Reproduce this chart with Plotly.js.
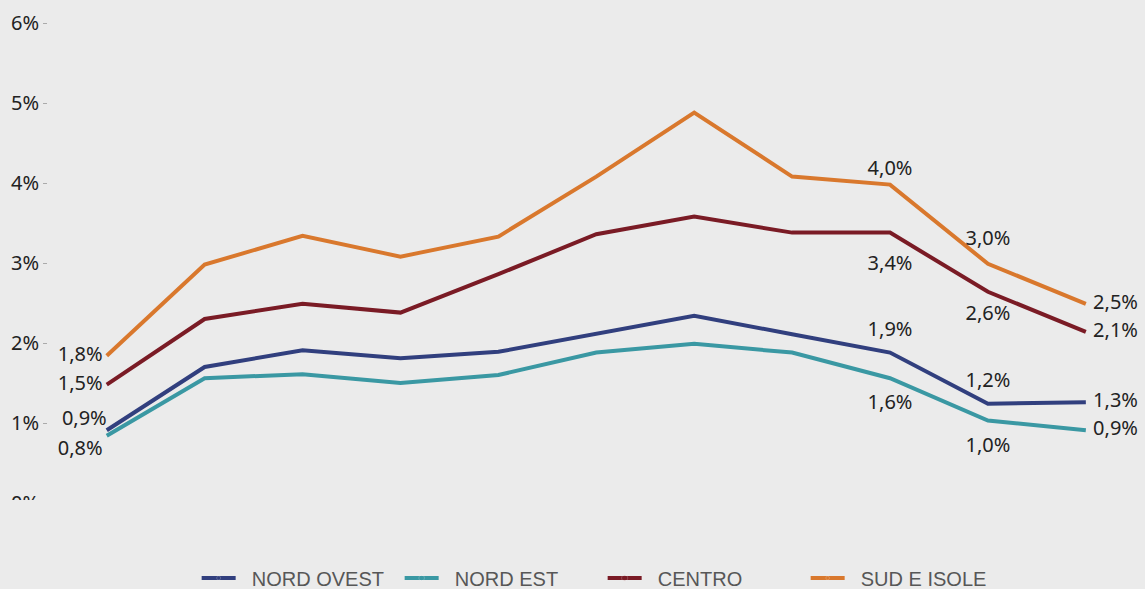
<!DOCTYPE html>
<html>
<head>
<meta charset="utf-8">
<script src="https://cdn.plot.ly/plotly-3.0.1.min.js"></script>
<style>html,body{margin:0;padding:0;background:#ebebeb;}#chart{width:1145px;height:589px;}</style>
</head>
<body>
<div id="chart"></div>
<script>
// Data (percent values)
const periods = [0, 1, 2, 3, 4, 5, 6, 7, 8, 9, 10];
const nordOvest = [0.91, 1.70, 1.91, 1.81, 1.89, 2.11, 2.34, 2.11, 1.88, 1.24, 1.26];
const nordEst   = [0.84, 1.56, 1.61, 1.50, 1.60, 1.88, 1.99, 1.88, 1.56, 1.03, 0.91];
const centro    = [1.48, 2.30, 2.49, 2.38, 2.86, 3.36, 3.58, 3.38, 3.38, 2.64, 2.14];
const sudIsole  = [1.84, 2.98, 3.34, 3.08, 3.33, 4.08, 4.88, 4.08, 3.98, 2.99, 2.49];
const seriesNames = ['NORD OVEST', 'NORD EST', 'CENTRO', 'SUD E ISOLE'];
const labelledPoints = [0, 8, 9, 10];
const yTickVals = [0, 1, 2, 3, 4, 5, 6];
const yTickText = ['0%', '1%', '2%', '3%', '4%', '5%', '6%'];

function fmt(v) { return v.toFixed(1).replace('.', ',') + '%'; }
function labels(arr) { return arr.map((v, i) => labelledPoints.includes(i) ? fmt(v) : ''); }
const last = periods.length - 1;
function positions(first, mid, end) {
  return periods.map((p, i) => i === 0 ? first : (i === last ? end : mid));
}
// invisible marker sizes, only used to push the value labels away from the line
// (one size for each labelled point, in the order of labelledPoints)
function gaps(sizes) {
  return periods.map((p, i) => { const j = labelledPoints.indexOf(i); return j < 0 ? 0 : sizes[j]; });
}

const colors = ['#313f7e', '#3a98a3', '#7a1b25', '#d9782d'];
const dataSets = [nordOvest, nordEst, centro, sudIsole];
const pos = [
  positions('top left', 'top center', 'middle right'),
  positions('bottom left', 'bottom center', 'middle right'),
  positions('middle left', 'bottom center', 'middle right'),
  positions('middle left', 'top center', 'middle right')
];
const gapSizes = [gaps([0, 17, 17, 10]), gaps([5, 23, 25, 10]), gaps([5, 35, 20, 10]), gaps([5, 5, 20, 10])];
const legendPad = '\u00a0\u00a0';

const traces = dataSets.map((d, k) => ({
  x: periods, y: d, name: legendPad + seriesNames[k], type: 'scatter', mode: 'lines+markers+text',
  line: {color: colors[k], width: 4},
  marker: {size: gapSizes[k], opacity: 0, color: colors[k]},
  text: labels(d), textposition: pos[k],
  textfont: {family: 'Noto Sans, Open Sans, sans-serif', size: 20, color: '#222'},
  cliponaxis: false, hoverinfo: 'skip'
}));

const layout = {
  width: 1145, height: 589,
  paper_bgcolor: '#ebebeb', plot_bgcolor: '#ebebeb',
  margin: {l: 48, r: 20, t: 19, b: 86, autoexpand: false},
  showlegend: true,
  legend: {orientation: 'h', x: 0.515, xanchor: 'center', y: -0.155, yanchor: 'middle',
    font: {family: 'Liberation Sans, Arial, sans-serif', size: 20, color: '#575757'},
    itemwidth: 34, entrywidth: 154, entrywidthmode: 'pixels',
    traceorder: 'normal', bgcolor: 'rgba(0,0,0,0)'},
  xaxis: {range: [-0.6, 10.4], showgrid: false, zeroline: false, showticklabels: false,
    showline: false, ticks: '', fixedrange: true},
  yaxis: {range: [0, 6.05], tickvals: yTickVals, ticktext: yTickText, showgrid: false,
    zeroline: false, showline: false, ticks: 'outside', ticklen: 4, tickwidth: 1,
    tickcolor: '#aaa', tickfont: {family: 'Noto Sans, Open Sans, sans-serif', size: 20, color: '#222'},
    fixedrange: true},
  shapes: [{type: 'rect', xref: 'paper', yref: 'paper', x0: -0.1, x1: 0.2, y0: -0.09, y1: 0.006,
    fillcolor: '#ebebeb', line: {width: 0}, layer: 'above'}]
};

Plotly.newPlot('chart', traces, layout, {displayModeBar: false, staticPlot: true});
</script>
</body>
</html>
